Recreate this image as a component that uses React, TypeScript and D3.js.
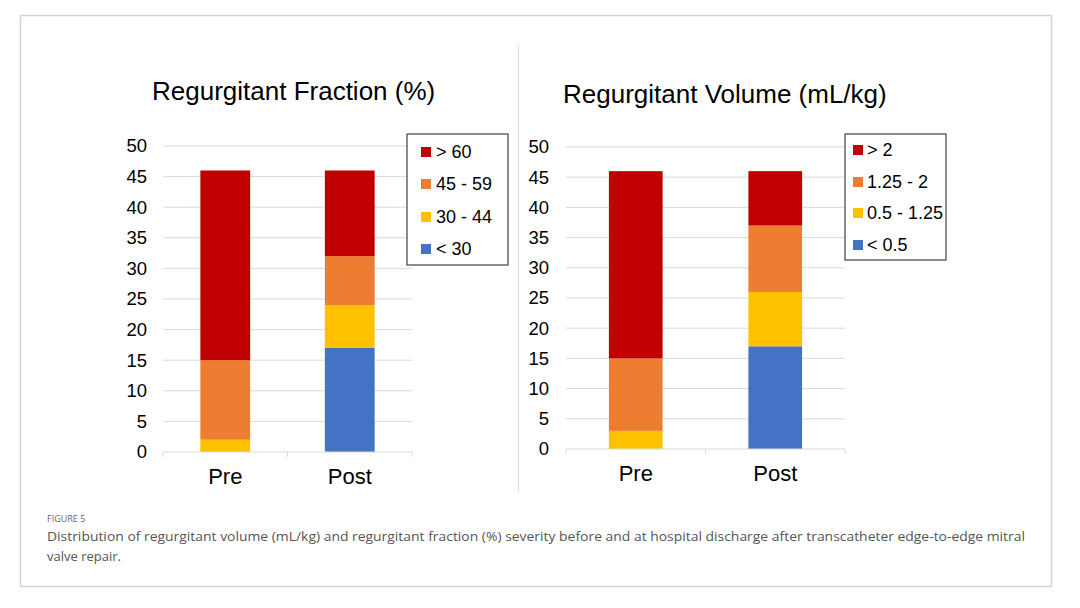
import React from "react";
import * as d3 from "d3";

const categories = ["Pre", "Post"];
const yTicks = [0, 5, 10, 15, 20, 25, 30, 35, 40, 45, 50];

// Regurgitant Fraction (%) — stacked bottom to top
const fractionKeys = ["< 30", "30 - 44", "45 - 59", "> 60"];
const fractionLt30 = [0, 17];
const fraction30to44 = [2, 7];
const fraction45to59 = [13, 8];
const fractionGt60 = [31, 14];

// Regurgitant Volume (mL/kg)
const volumeKeys = ["< 0.5", "0.5 - 1.25", "1.25 - 2", "> 2"];
const volumeLt05 = [0, 17];
const volume05to125 = [3, 9];
const volume125to2 = [12, 11];
const volumeGt2 = [31, 9];

const colors = ["#4472C4", "#FFC000", "#ED7D31", "#C00000"];

const FONT = "'Liberation Sans', Arial, sans-serif";

type PanelProps = {
  title: string;
  titleX: number;
  titleY: number;
  keys: string[];
  series: number[][];
  x0: number;
  x1: number;
  y0: number;
  y1: number;
  barFrac: number;
  tickX: number;
  legend: { x: number; y: number; w: number; h: number; rows: number[]; sqX: number; txtX: number };
};

function Panel(p: PanelProps) {
  const rows = categories.map((c, i) => {
    const r: any = { cat: c };
    p.keys.forEach((k, j) => (r[k] = p.series[j][i]));
    return r;
  });
  const stacked = d3.stack<any>().keys(p.keys)(rows);
  const x = d3.scaleBand().domain(categories).range([p.x0, p.x1]);
  const y = d3.scaleLinear().domain([0, 50]).range([p.y0, p.y1]);
  const bw = x.bandwidth() * p.barFrac;
  return (
    <g>
      <text x={p.titleX} y={p.titleY} fontFamily={FONT} fontSize={26} fill="#000">
        {p.title}
      </text>
      {yTicks.map((t) =>
        t === 0 ? null : (
          <line key={t} x1={p.x0} x2={p.x1} y1={y(t)} y2={y(t)} stroke="#D9D9D9" strokeWidth={1} />
        )
      )}
      {yTicks.map((t) => (
        <text key={"l" + t} x={p.tickX} y={y(t)} dy="0.35em" textAnchor="end" fontFamily={FONT} fontSize={18.5} fill="#000">
          {t}
        </text>
      ))}
      {stacked.map((s, j) =>
        s.map((d, i) =>
          d[1] - d[0] > 0 ? (
            <rect
              key={j + "-" + i}
              x={(x(categories[i]) as number) + (x.bandwidth() - bw) / 2}
              y={y(d[1])}
              width={bw}
              height={y(d[0]) - y(d[1])}
              fill={colors[j]}
            />
          ) : null
        )
      )}
      <line x1={p.x0} x2={p.x1} y1={y(0)} y2={y(0)} stroke="#D9D9D9" strokeWidth={1} />
      {[p.x0, (x("Post") as number), p.x1].map((tx, i) => (
        <line key={"t" + i} x1={tx} x2={tx} y1={y(0)} y2={y(0) + 5} stroke="#D9D9D9" strokeWidth={1} />
      ))}
      {categories.map((c) => (
        <text
          key={c}
          x={(x(c) as number) + x.bandwidth() / 2}
          y={y(0) + 32}
          textAnchor="middle"
          fontFamily={FONT}
          fontSize={22}
          fill="#000"
        >
          {c}
        </text>
      ))}
      <rect x={p.legend.x} y={p.legend.y} width={p.legend.w} height={p.legend.h} fill="#fff" stroke="#404040" strokeWidth={1.2} />
      {[...p.keys].reverse().map((k, i) => {
        const ci = p.keys.length - 1 - i;
        const cy = p.legend.rows[i];
        return (
          <g key={k}>
            <rect x={p.legend.sqX} y={cy - 5} width={10} height={10} fill={colors[ci]} />
            <text x={p.legend.txtX} y={cy} dy="0.35em" fontFamily={FONT} fontSize={18} fill="#000">
              {k}
            </text>
          </g>
        );
      })}
    </g>
  );
}

export default function App() {
  return (
    <svg width={1080} height={608} style={{ position: "absolute", left: 0, top: 0, background: "#fff" }}>
      <rect x={0} y={0} width={1080} height={608} fill="#fff" />
      <rect x={20.5} y={15.5} width={1031} height={571} fill="#fff" stroke="#D4D4D4" strokeWidth={1.5} />
      <line x1={518.5} x2={518.5} y1={45} y2={492} stroke="#DDDDDD" strokeWidth={1} />
      <Panel
        title="Regurgitant Fraction (%)"
        titleX={152}
        titleY={100}
        keys={fractionKeys}
        series={[fractionLt30, fraction30to44, fraction45to59, fractionGt60]}
        x0={163}
        x1={412}
        y0={452}
        y1={146}
        barFrac={0.4}
        tickX={147}
        legend={{ x: 407, y: 134, w: 101, h: 131, rows: [152, 184, 217, 249], sqX: 421, txtX: 436 }}
      />
      <Panel
        title="Regurgitant Volume (mL/kg)"
        titleX={563}
        titleY={103}
        keys={volumeKeys}
        series={[volumeLt05, volume05to125, volume125to2, volumeGt2]}
        x0={566}
        x1={845}
        y0={449}
        y1={147}
        barFrac={0.385}
        tickX={549}
        legend={{ x: 845, y: 134, w: 101, h: 126, rows: [150, 182, 213, 245], sqX: 853, txtX: 867 }}
      />
      <text x={47} y={522} fontFamily="'Open Sans', sans-serif" fontSize={9} fill="#666">
        FIGURE 5
      </text>
      <text x={47} y={541} fontFamily="'Open Sans', sans-serif" fontSize={13} fill="#555" textLength={978} lengthAdjust="spacingAndGlyphs">
        Distribution of regurgitant volume (mL/kg) and regurgitant fraction (%) severity before and at hospital discharge after transcatheter edge-to-edge mitral
      </text>
      <text x={47} y={561} fontFamily="'Open Sans', sans-serif" fontSize={13} fill="#555">
        valve repair.
      </text>
    </svg>
  );
}
